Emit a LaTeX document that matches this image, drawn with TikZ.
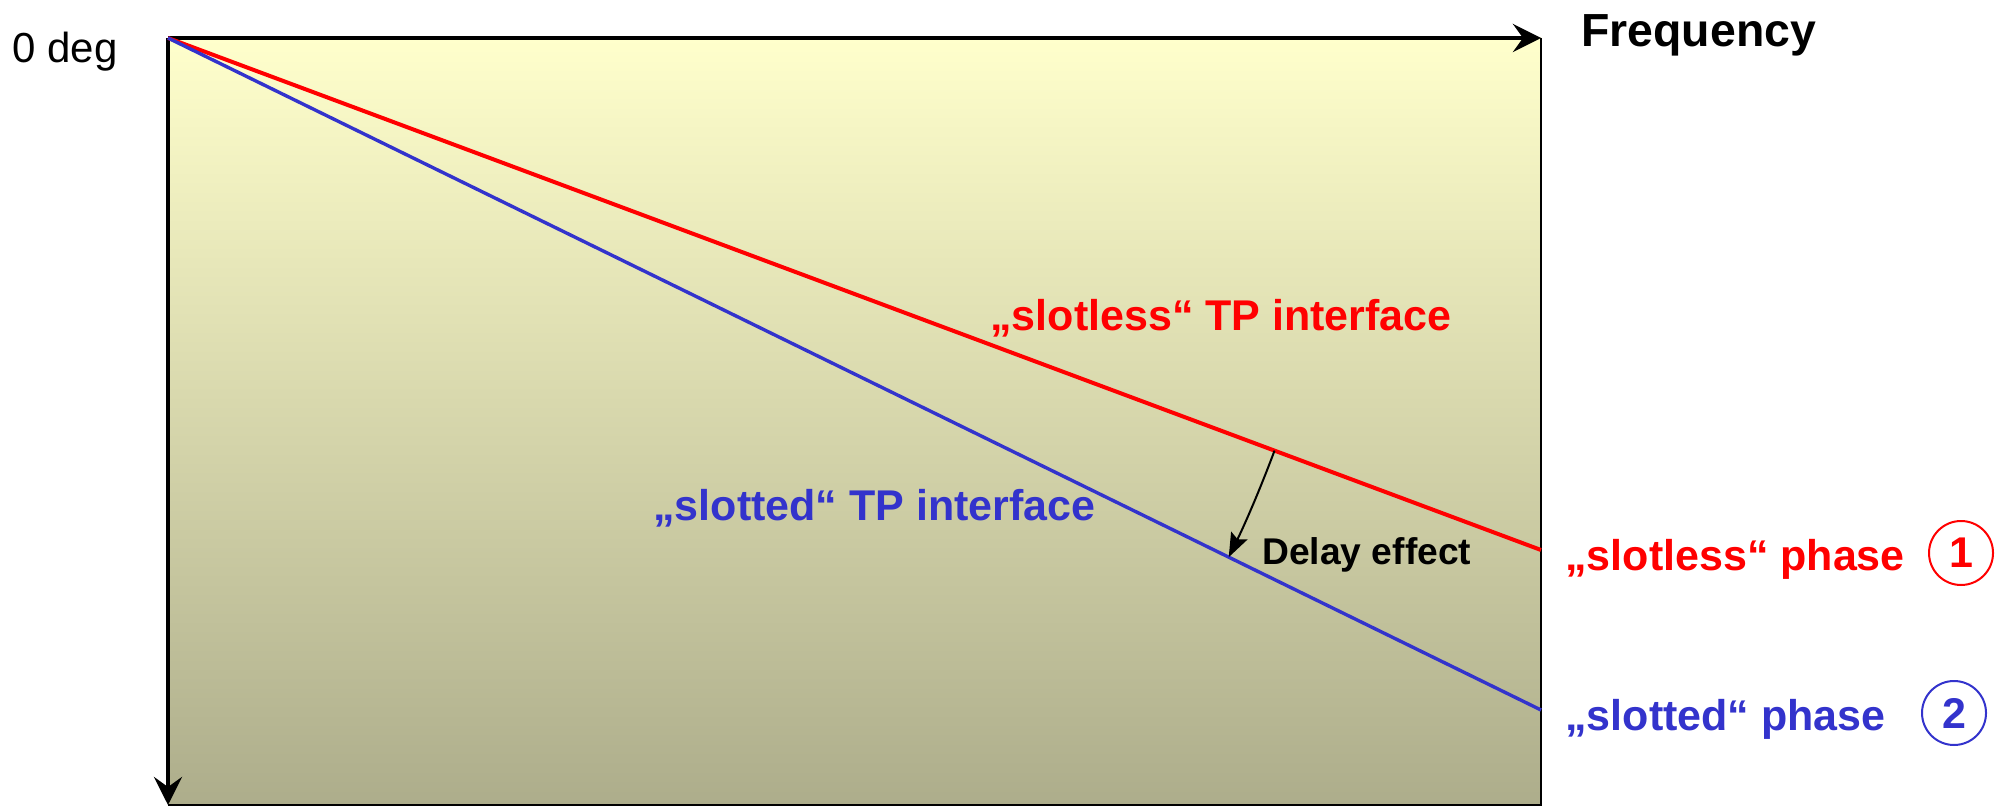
\documentclass[tikz,border=0pt]{standalone}
\usepackage{fontspec}
\setmainfont{Liberation Sans}
\usetikzlibrary{arrows.meta}
\definecolor{plotred}{RGB}{255,0,0}
\definecolor{plotblue}{RGB}{51,51,204}
\definecolor{bgtop}{RGB}{255,255,204}
\definecolor{bgbottom}{RGB}{173,173,139}
\begin{document}
\begin{tikzpicture}[x=0.5pt,y=-0.5pt,
  txtlbl/.style={inner sep=0pt, anchor=base west, font=\fontsize{21.5}{25}\selectfont\bfseries},
  axisline/.style={line width=2.4pt, -{Stealth[length=14pt,width=14pt,inset=5pt]}},
  phasecircle/.style={circle, draw, line width=1pt, minimum size=32pt, inner sep=0pt,
    font=\fontsize{21.5}{25}\selectfont\bfseries}]
\useasboundingbox (0,0) rectangle (2000,807);

% frame of the plot area
\coordinate (O) at (168,38);
\coordinate (FE) at (1541,38);
\coordinate (DE) at (168,805);
\coordinate (BR) at (1541,805);
\shade[top color=bgtop, bottom color=bgbottom] (O) rectangle (BR);
\draw[line width=0.6pt] (FE) -- (BR) -- (DE);
\draw[axisline] (O) -- (FE);
\draw[axisline] (O) -- (DE);

% phase lines
\coordinate (R) at (1541,550);
\coordinate (B) at (1541,710);
\draw[plotred, line width=2pt] (O) -- (R);
\draw[plotblue, line width=1.7pt] (O) -- (B);

% delay arc between the two phase lines, centred on the origin
\draw[line width=1pt, -{Stealth[length=12pt,width=9pt,inset=2pt]}]
  (O) ++(20.45:1181) coordinate (dstart) arc[start angle=20.45, end angle=26.08, radius=1181] coordinate (dend);

% texts
\node[inner sep=0pt, anchor=base west, font=\fontsize{21}{25}\selectfont] (zero) at (12,63) {0 deg};
\node[txtlbl, font=\fontsize{23.2}{27}\selectfont\bfseries] (freq) at (1581,47) {Frequency};
\node[txtlbl, text=plotred] (slotlessTP) at (990,330) {„slotless“ TP interface};
\node[txtlbl, text=plotblue] (slottedTP) at (653,520) {„slotted“ TP interface};
\node[txtlbl, font=\fontsize{18.6}{22}\selectfont\bfseries] (delay) at (1262,564) {Delay effect};
\node[txtlbl, text=plotred] (slotlessPh) at (1565,570) {„slotless“ phase};
\node[txtlbl, text=plotblue] (slottedPh) at (1565,730) {„slotted“ phase};
\node[phasecircle, draw=plotred, text=plotred] (n1) at (1961,553) {1};
\node[phasecircle, draw=plotblue, text=plotblue] (n2) at (1954,713) {2};
\end{tikzpicture}
\end{document}
